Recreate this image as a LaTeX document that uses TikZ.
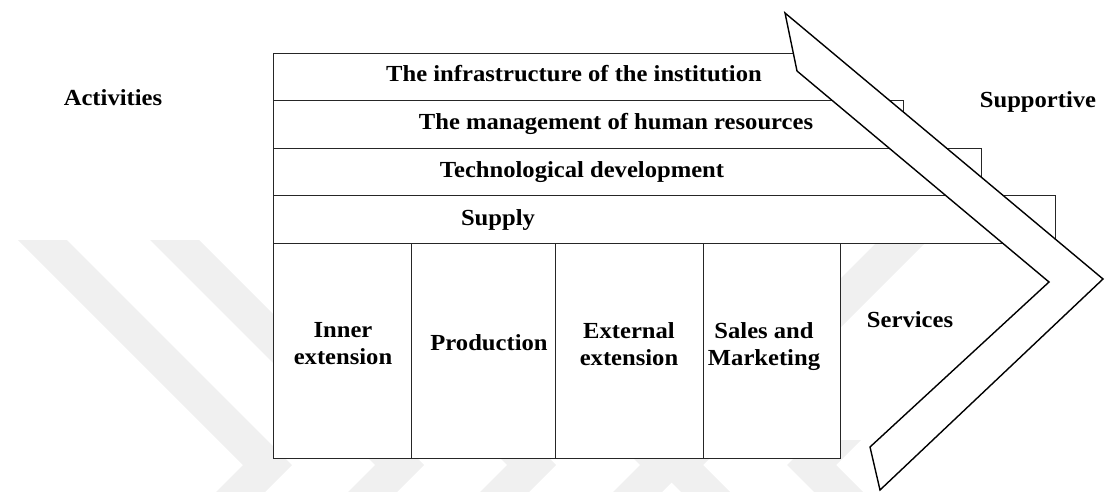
\documentclass[tikz,border=0pt]{standalone}
\usepackage{fontspec}
\setmainfont{Liberation Serif}[FakeStretch=1.07]
\begin{document}
\begin{tikzpicture}[x=1pt,y=-1pt,
  wm/.style={fill=black!6,draw=none},
  box/.style={draw=black!85,line width=1.2pt,fill=white,rectangle,inner sep=0pt,anchor=north west},
  lbl/.style={inner sep=0pt,font=\fontsize{23}{27}\selectfont\bfseries,align=center},
  arrowshape/.style={draw=black,line width=1.4pt,fill=white,line join=miter}]
\useasboundingbox (0,0) rectangle (1105,492);
% faint watermark chevrons
\begin{scope}
\clip (0,0) rectangle (1105,492);
\foreach \v in {243,375,507,640}{
  \fill[wm] (\v-225,240) -- (\v,465) -- (\v-55,520) -- (\v-6,520) -- (\v+49,465) -- (\v-176,240) -- cycle;
}
\fill[wm] (1343-640+225,240) -- (1343-640,465) -- (1343-640+55,520) -- (1343-640+6,520) -- (1343-640-49,465) -- (1343-640+176,240) -- cycle;
\begin{scope}
\clip (0,440) rectangle (1105,492);
\fill[wm] (1343-507+225,240) -- (1343-507,465) -- (1343-507+55,520) -- (1343-507+6,520) -- (1343-507-49,465) -- (1343-507+176,240) -- cycle;
\end{scope}
\end{scope}
% support activity bars
\node[box,minimum width=558pt,minimum height=47pt] (bar1) at (273,53) {};
\node[box,minimum width=630pt,minimum height=48pt] (bar2) at (273,100) {};
\node[box,minimum width=708pt,minimum height=47pt] (bar3) at (273,148) {};
\node[box,minimum width=782pt,minimum height=48pt] (bar4) at (273,195) {};
% primary activity columns
\node[box,minimum width=138pt,minimum height=215pt] (c1) at (273,243) {};
\node[box,minimum width=144pt,minimum height=215pt] (c2) at (411,243) {};
\node[box,minimum width=148pt,minimum height=215pt] (c3) at (555,243) {};
\node[box,minimum width=137pt,minimum height=215pt] (c4) at (703,243) {};
% big chevron
\coordinate (p1) at (785,13);
\coordinate (p2) at (1103,279);
\coordinate (p3) at (880,490);
\coordinate (p4) at (870,447);
\coordinate (p5) at (1049,282);
\coordinate (p6) at (797,71);
\draw[arrowshape] (p1) -- (p2) -- (p3) -- (p4) -- (p5) -- (p6) -- cycle;
% labels
\node[lbl,anchor=base] (act) at (113,106) {Activities};
\node[lbl,anchor=base] (sup) at (1038,108) {Supportive};
\node[lbl,anchor=base] (t1) at (574,82) {The infrastructure of the institution};
\node[lbl,anchor=base] (t2) at (616,129) {The management of human resources};
\node[lbl,anchor=base] (t3) at (582,177) {Technological development};
\node[lbl,anchor=base] (t4) at (498,225) {Supply};
\node[lbl,anchor=base] (srv) at (910,327) {Services};
\node[lbl] (l1) at (343,344) {Inner\\extension};
\node[lbl,anchor=base] (l2) at (489,350) {Production};
\node[lbl] (l3) at (629,344) {External\\extension};
\node[lbl] (l4) at (764,346.5) {Sales and\\Marketing};
\end{tikzpicture}
\end{document}
